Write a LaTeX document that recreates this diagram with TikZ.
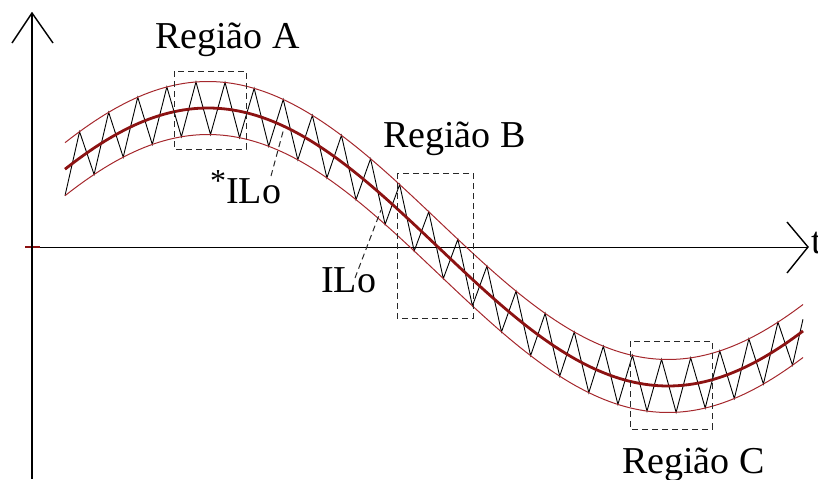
\documentclass[tikz,border=0pt]{standalone}
\usepackage{fontspec}
\setmainfont{Liberation Serif}
\usetikzlibrary{calc}
\definecolor{bandred}{RGB}{165,40,45}
\definecolor{midred}{RGB}{140,18,18}
\definecolor{boxgray}{RGB}{40,40,40}
\begin{document}
\begin{tikzpicture}[x=1pt,y=-1pt,
  axis/.style={line width=1.4pt, black},
  band/.style={line width=1pt, color=bandred},
  mid/.style={line width=2.8pt, color=midred},
  zig/.style={line width=0.9pt, black, line join=miter},
  regbox/.style={draw=boxgray, line width=1pt, dash pattern=on 6pt off 4pt},
  leader/.style={draw=boxgray, line width=1pt, dash pattern=on 6pt off 4pt},
  lbl/.style={font=\fontsize{38}{40}\selectfont, inner sep=0pt, anchor=base west}]
\useasboundingbox (0,0) rectangle (818,479);

% axes
\draw[line width=1pt] (25,247) -- (808,247);
\draw[midred, line width=2.2pt] (25,247) -- (40,247);
\draw[axis] (32,13) -- (32,479);
\draw[axis] (12,43) -- (32,13) -- (53,43);
\draw[axis] (787,222) -- (808,247) -- (787,273);

% zigzag
\coordinate (v50) at (792.5, {247-139*cos((792.5-208)*0.391304)+26.5});
\coordinate (v51) at (807.05, {247-139*cos((807.05-208)*0.391304)-26.5});
\coordinate (zend) at ($(v50)!0.72!(v51)$);
\draw[zig] plot[domain=0:50, samples=51] ({65+14.55*\x}, {247-139*cos((65+14.55*\x-208)*0.391304)+26.5*cos(180*\x)}) -- (zend);

% bands and mean curve
\draw[band] plot[domain=65:803, samples=150] (\x, {247-139*cos((\x-208)*0.391304)-26.5});
\draw[band] plot[domain=65:803, samples=150] (\x, {247-139*cos((\x-208)*0.391304)+26.5});
\draw[mid] plot[domain=65:803, samples=150] (\x, {247-139*cos((\x-208)*0.391304)});

% region boxes
\draw[regbox] (174,71) rectangle (246,149);
\draw[regbox] (397,173) rectangle (473,318);
\draw[regbox] (630,341) rectangle (712,429);

% labels
\node[lbl] (ra) at (155,48) {Região A};
\node[lbl] (rb) at (383,147) {Região B};
\node[lbl] (rc) at (622,473) {Região C};
\node[lbl] (ilo1) at (210,203) {\raisebox{12pt}{\fontsize{32}{32}\selectfont *}ILo};
\node[lbl] (ilo2) at (321,292) {ILo};
\node[lbl] (tlab) at (811,253) {t};

% leaders
\coordinate (l1a) at (271,176);
\coordinate (l1b) at (284,128);
\coordinate (l2a) at (355,278);
\coordinate (l2b) at (381,210);
\draw[leader] (l1a) -- (l1b);
\draw[leader] (l2a) -- (l2b);
\end{tikzpicture}
\end{document}
